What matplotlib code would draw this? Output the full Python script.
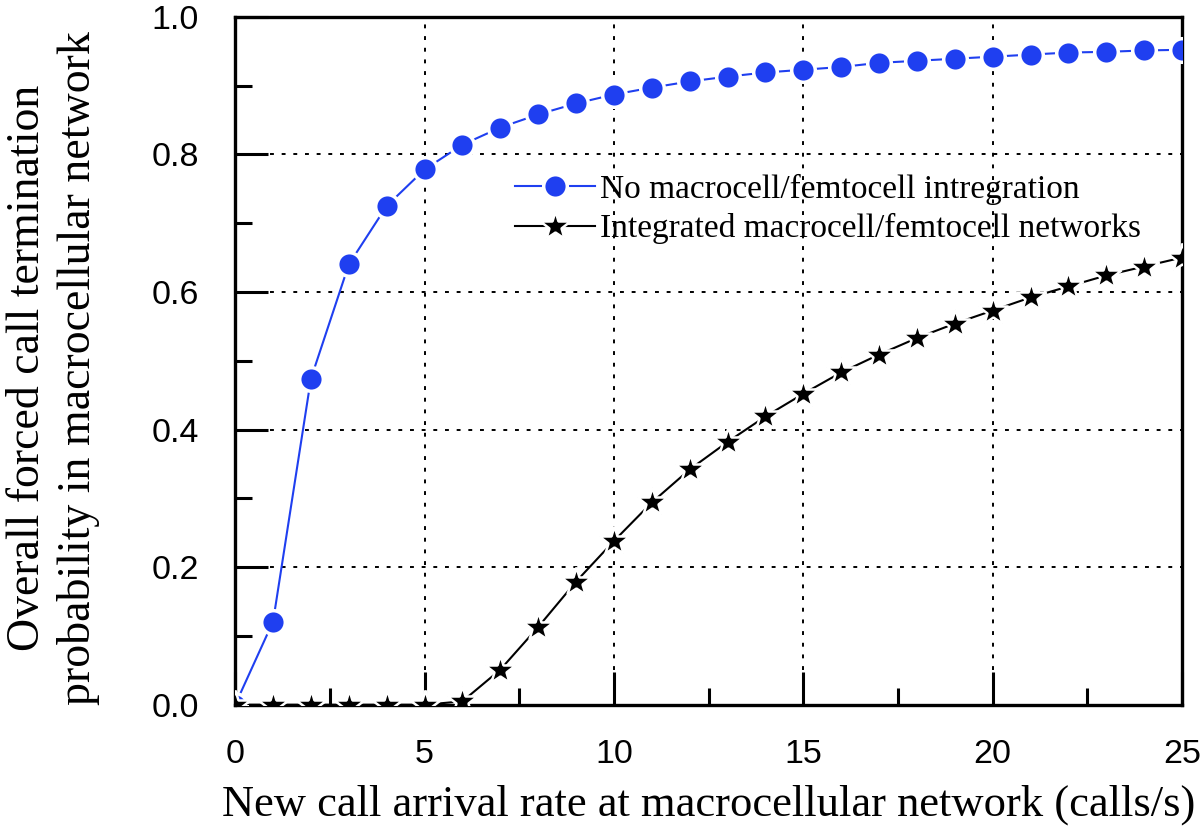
import matplotlib
matplotlib.use("Agg")
import matplotlib.pyplot as plt
from matplotlib.ticker import MultipleLocator

# data
arrival_rate = list(range(0, 26))
no_integration = [0.0, 0.121, 0.474, 0.640, 0.725, 0.778, 0.814, 0.839, 0.858, 0.874,
                  0.887, 0.897, 0.906, 0.913, 0.919, 0.923, 0.927, 0.933, 0.936, 0.939,
                  0.942, 0.945, 0.948, 0.949, 0.951, 0.952]
integrated = [0.0, 0.0, 0.0, 0.0, 0.0, 0.0, 0.005, 0.051, 0.113, 0.179,
              0.238, 0.294, 0.342, 0.382, 0.419, 0.452, 0.483, 0.509, 0.533, 0.554,
              0.573, 0.592, 0.608, 0.624, 0.637, 0.650]

label_no = "No macrocell/femtocell intregration"
label_int = "Integrated macrocell/femtocell networks"

serif = "Liberation Serif"
sans = "Liberation Sans"

fig = plt.figure(figsize=(12, 8.38), dpi=100)
ax = fig.add_axes([0.196, 0.159, 0.789, 0.821])

# white marker edges give the small gap between line and marker
ax.plot(arrival_rate, no_integration, color="#1f3ff0", lw=1.5, marker="o", ms=17,
        mfc="#1f3ff0", mec="white", mew=2.5, label=label_no, zorder=3)
ax.plot(arrival_rate, integrated, color="black", lw=1.5, marker="*", ms=22,
        mfc="black", mec="white", mew=1.8, label=label_int, zorder=3)

ax.set_xlim(0, 25)
ax.set_ylim(0, 1.0)
ax.xaxis.set_major_locator(MultipleLocator(5))
ax.xaxis.set_minor_locator(MultipleLocator(2.5))
ax.yaxis.set_minor_locator(MultipleLocator(0.1))
ax.set_yticks([0, 0.2, 0.4, 0.6, 0.8, 1.0])
ax.set_yticklabels(["0.0", "0.2", "0.4", "0.6", "0.8", "1.0"])

ax.tick_params(which="major", direction="in", length=24, width=2.2,
               labelsize=24.5, top=False, right=False)
ax.tick_params(which="minor", direction="in", length=12, width=2.2, top=False, right=False)
ax.tick_params(axis="x", which="major", pad=25)
ax.tick_params(axis="y", which="major", pad=26)
for lab in ax.get_xticklabels() + ax.get_yticklabels():
    lab.set_fontfamily(sans)

for s in ax.spines.values():
    s.set_linewidth(2.4)

ax.grid(True, which="major", color="black", ls=(0, (2, 4)), lw=1.4)

ax.set_xlabel("New call arrival rate at macrocellular network (calls/s)",
              fontsize=32, family=serif, labelpad=10)
ax.set_ylabel("Overall forced call termination\nprobability in macrocellular network",
              fontsize=33, family=serif, linespacing=1.26)
ax.yaxis.set_label_coords(-0.1426, 0.49)

leg = ax.legend(loc="upper left", bbox_to_anchor=(0.281, 0.791), frameon=False,
                prop={"family": serif, "size": 24}, handlelength=2.4,
                handletextpad=0.15, borderaxespad=0, labelspacing=0.25)

fig.savefig("out.png", dpi=100, facecolor="white")
